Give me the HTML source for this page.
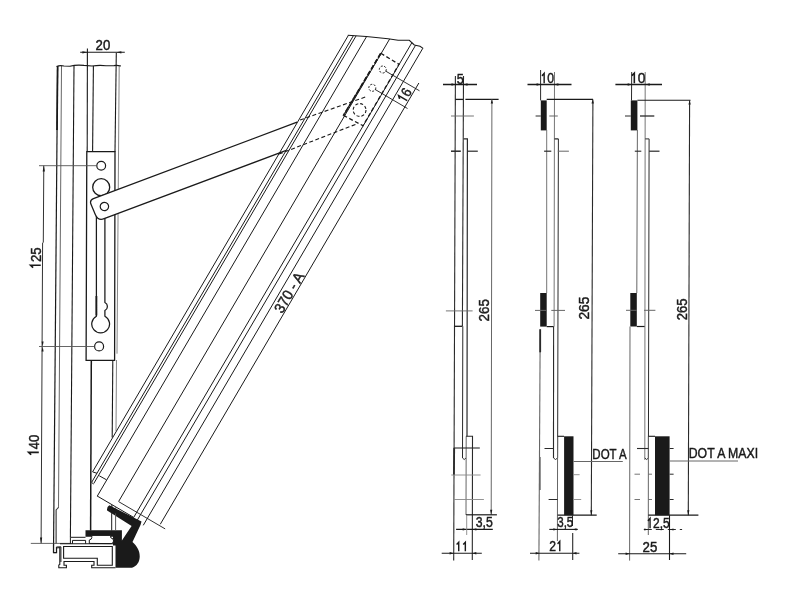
<!DOCTYPE html>
<html><head><meta charset="utf-8"><style>
html,body{margin:0;padding:0;background:#fff;width:801px;height:614px;overflow:hidden}
svg{display:block;will-change:transform}
text{font-family:"Liberation Sans",sans-serif;fill:#1a1a1a;stroke:#1a1a1a;stroke-width:0.45px}
</style></head><body>
<svg width="801" height="614" viewBox="0 0 801 614">
<rect width="801" height="614" fill="#fff"/>
<line x1="57.60" y1="66.00" x2="53.50" y2="552.60" stroke="#1a1a1a" stroke-width="1.2" />
<line x1="57.60" y1="66.00" x2="57.00" y2="130.00" stroke="#1a1a1a" stroke-width="1.7" />
<line x1="61.50" y1="66.00" x2="58.50" y2="506.60" stroke="#666" stroke-width="1.0" />
<path d="M58.5,506.6 Q58.5,509 56.1,509.5 L56.1,543.6" stroke="#1a1a1a" stroke-width="1.0" fill="none" />
<path d="M53.5,552.6 L56.4,552.6 L56.4,547 L60.9,546.8 L60.9,562" stroke="#1a1a1a" stroke-width="1.0" fill="none" />
<line x1="74.00" y1="66.00" x2="70.40" y2="537.30" stroke="#1a1a1a" stroke-width="1.1" />
<line x1="87.40" y1="48.40" x2="87.20" y2="151.70" stroke="#1a1a1a" stroke-width="1.1" />
<line x1="93.40" y1="66.00" x2="92.60" y2="151.70" stroke="#1a1a1a" stroke-width="1.1" />
<line x1="91.30" y1="360.30" x2="90.60" y2="530.50" stroke="#1a1a1a" stroke-width="1.5" />
<line x1="112.80" y1="360.30" x2="112.20" y2="437.50" stroke="#1a1a1a" stroke-width="1.1" />
<line x1="111.90" y1="505.00" x2="111.70" y2="513.40" stroke="#1a1a1a" stroke-width="1.1" />
<line x1="116.30" y1="52.70" x2="115.00" y2="151.70" stroke="#1a1a1a" stroke-width="1.1" />
<line x1="119.20" y1="66.00" x2="117.00" y2="353.70" stroke="#777" stroke-width="0.9" />
<line x1="116.50" y1="360.00" x2="116.00" y2="431.00" stroke="#777" stroke-width="0.9" />
<line x1="115.70" y1="507.00" x2="115.60" y2="513.40" stroke="#777" stroke-width="0.9" />
<path d="M56.5,66.5 Q60,65 64,66 L70,66.2 Q76,64.6 84,65.4 L92,66 Q100,64.8 106,65.8 L114,65.6 Q117,65 121,66" stroke="#1a1a1a" stroke-width="1.1" fill="none" />
<line x1="80.20" y1="52.30" x2="124.80" y2="52.30" stroke="#1a1a1a" stroke-width="1.1" />
<path d="M87.40,52.30 L82.40,51.20 L82.40,53.40 Z" fill="#1a1a1a" stroke="none" stroke-width="0"/>
<path d="M116.40,52.30 L121.40,51.20 L121.40,53.40 Z" fill="#1a1a1a" stroke="none" stroke-width="0"/>
<path d="M43.8,165.5 L43.3,242.2 L42.6,243 L41.1,543.4" stroke="#333" stroke-width="1.0" fill="none" />
<path d="M43.80,165.50 L42.70,171.50 L44.90,171.50 Z" fill="#1a1a1a" stroke="none" stroke-width="0"/>
<path d="M42.60,346.50 L41.60,341.50 L43.60,341.50 Z" fill="#1a1a1a" stroke="none" stroke-width="0"/>
<path d="M42.60,346.50 L41.60,351.50 L43.60,351.50 Z" fill="#1a1a1a" stroke="none" stroke-width="0"/>
<path d="M41.10,543.40 L40.00,537.40 L42.20,537.40 Z" fill="#1a1a1a" stroke="none" stroke-width="0"/>
<line x1="30.80" y1="543.40" x2="71.40" y2="543.40" stroke="#555" stroke-width="0.9" />
<path d="M86.8,151.7 L115,151.7 L114.6,360.3 L86.1,360.3 Z" stroke="#1a1a1a" stroke-width="1.3" fill="#fff" />
<circle cx="101.20" cy="165.70" r="4.40" stroke="#1a1a1a" stroke-width="1.2" fill="none" />
<circle cx="101.20" cy="187.20" r="8.50" stroke="#1a1a1a" stroke-width="1.3" fill="none" />
<path d="M96.4,216 L96.4,316.2 A8.9,8.9 0 1 0 104.9,316.2 L104.9,310.5 Q107.6,309 107.3,306.5 Q107.6,304 104.9,302.5 L104.9,214" stroke="#1a1a1a" stroke-width="1.25" fill="none" />
<line x1="96.40" y1="296.00" x2="96.40" y2="315.50" stroke="#1a1a1a" stroke-width="1.8" />
<circle cx="99.10" cy="346.40" r="4.50" stroke="#1a1a1a" stroke-width="1.2" fill="none" />
<line x1="39.00" y1="165.70" x2="97.00" y2="165.70" stroke="#555" stroke-width="0.9" />
<line x1="39.00" y1="346.50" x2="94.60" y2="346.50" stroke="#555" stroke-width="0.9" />
<g transform="translate(104.4,206.5) rotate(-20.556)">
<path d="M210,-11.3 L-7.5,-11.3 Q-11.5,-11.3 -11.8,-7.3 L-11.3,4.5 Q-11,11.3 -4.5,11.3 L190,11.3" stroke="#1a1a1a" stroke-width="1.25" fill="#fff"/>
<circle cx="0.00" cy="0.00" r="4.20" stroke="#1a1a1a" stroke-width="1.2" fill="none" />
</g>
<path d="M347.8,35.3 L366.2,36.5 L388.1,38.7 L398.1,40.3 L409.3,40.3 L414.3,45 L420,46.2 L423.1,48.4" stroke="#1a1a1a" stroke-width="1.1" fill="none" />
<line x1="348.39" y1="35.34" x2="92.58" y2="471.87" stroke="#1a1a1a" stroke-width="1.0" />
<line x1="353.40" y1="35.67" x2="91.65" y2="482.33" stroke="#1a1a1a" stroke-width="1.0" />
<line x1="356.10" y1="35.84" x2="93.74" y2="483.56" stroke="#1a1a1a" stroke-width="1.0" />
<line x1="366.60" y1="36.53" x2="97.30" y2="496.08" stroke="#1a1a1a" stroke-width="1.0" />
<line x1="389.67" y1="38.95" x2="118.57" y2="501.59" stroke="#1a1a1a" stroke-width="1.0" />
<line x1="411.87" y1="42.71" x2="133.70" y2="517.41" stroke="#1a1a1a" stroke-width="1.0" />
<line x1="415.57" y1="45.27" x2="136.56" y2="521.40" stroke="#1a1a1a" stroke-width="1.0" />
<line x1="422.84" y1="48.22" x2="143.26" y2="525.33" stroke="#1a1a1a" stroke-width="1.0" />
<line x1="418.86" y1="83.00" x2="160.27" y2="524.28" stroke="#1a1a1a" stroke-width="1.0" />
<line x1="92.58" y1="471.87" x2="96.96" y2="473.28" stroke="#1a1a1a" stroke-width="1.0" />
<line x1="91.65" y1="482.33" x2="93.48" y2="483.99" stroke="#1a1a1a" stroke-width="1.0" />
<line x1="106.45" y1="479.77" x2="99.28" y2="475.79" stroke="#1a1a1a" stroke-width="1.0" />
<line x1="97.00" y1="495.90" x2="133.75" y2="517.44" stroke="#1a1a1a" stroke-width="1.0" />
<line x1="118.93" y1="501.80" x2="165.17" y2="528.90" stroke="#1a1a1a" stroke-width="0.9" />
<line x1="385.50" y1="71.00" x2="419.50" y2="90.80" stroke="#1a1a1a" stroke-width="0.9" />
<line x1="375.00" y1="89.40" x2="407.50" y2="108.50" stroke="#1a1a1a" stroke-width="0.9" />
<path d="M380.8,53.3 L399,64.3 L363,125.7 L343.5,115.4 Z" stroke="#1a1a1a" stroke-width="1.3" fill="none" stroke-dasharray="4,2.5"/>
<line x1="380.80" y1="53.30" x2="343.50" y2="115.40" stroke="#1a1a1a" stroke-width="1.7" stroke-dasharray="5,2"/>
<circle cx="359.60" cy="110.00" r="6.40" stroke="#1a1a1a" stroke-width="1.1" fill="none" stroke-dasharray="3,2"/>
<circle cx="382.80" cy="69.50" r="3.50" stroke="#1a1a1a" stroke-width="1.0" fill="none" stroke-dasharray="2,1.5"/>
<circle cx="372.30" cy="87.80" r="3.50" stroke="#1a1a1a" stroke-width="1.0" fill="none" stroke-dasharray="2,1.5"/>
<line x1="300.10" y1="120.00" x2="366.00" y2="96.80" stroke="#1a1a1a" stroke-width="1.1" stroke-dasharray="4,2.5"/>
<line x1="279.00" y1="154.10" x2="356.00" y2="124.20" stroke="#1a1a1a" stroke-width="1.1" stroke-dasharray="4,2.5"/>
<path d="M85.5,530.2 L121.9,530.2 L121.9,540.6 L131.6,525.9 L107.1,510.6 Q106.5,507 109.3,505.3 L141.5,521.4 L140.6,524.8 L132.5,542 C137,546 140,551 139.7,557 C139.5,562 137,566 132,567.8 L115.5,567.8 L115.5,545.5 L113,545.5 L113,536.8 L85.5,536.8 Z" stroke="#1a1a1a" stroke-width="0" fill="#1a1a1a" stroke="none"/>
<path d="M91.8,535.4 L110.5,535.4 L110.8,537.8 Q113.8,538.5 113.6,541 Q113.2,543.6 111.2,543.6 L89.3,543.4 L89.3,540 Q91.8,539.5 91.8,537.5 Z" stroke="#1a1a1a" stroke-width="1.0" fill="#fff" />
<path d="M53.5,543.4 L53.5,552.6 L56.6,552.6 L56.6,547.9 L59.8,547.5 L59.8,564.5 L58.8,565 L58.8,567.7 L66.4,567.7 L66.4,565.3 L64,565.3 L64,561.5 L94,561.5 L94,565.3 L91.7,565.3 L91.7,567.8 L115.5,567.8" stroke="#1a1a1a" stroke-width="1.1" fill="none" />
<line x1="60.00" y1="543.70" x2="115.50" y2="543.70" stroke="#1a1a1a" stroke-width="1.1" />
<path d="M63.6,546.5 L112.3,546.5 L112.3,565.3 L97.3,565.3 L97.3,558.2 L63.6,558.2 Z" stroke="#1a1a1a" stroke-width="1.1" fill="none" />
<path d="M70.4,543.7 L70.4,537.3 L85.5,537.3" stroke="#1a1a1a" stroke-width="1.0" fill="none" />
<path d="M72.5,543.7 L72.5,540.4 L85.6,540.4 L85.6,543.7" stroke="#1a1a1a" stroke-width="1.0" fill="none" />
<line x1="111.70" y1="513.40" x2="111.70" y2="530.50" stroke="#1a1a1a" stroke-width="1.0" />
<line x1="115.60" y1="513.40" x2="115.60" y2="530.50" stroke="#555" stroke-width="1.0" />
<line x1="455.40" y1="76.00" x2="453.70" y2="560.60" stroke="#2a2a2a" stroke-width="1.1" />
<line x1="454.20" y1="448.00" x2="453.90" y2="475.00" stroke="#2a2a2a" stroke-width="1.8" />
<line x1="455.40" y1="99.40" x2="463.50" y2="99.40" stroke="#1a1a1a" stroke-width="1.3" />
<line x1="463.50" y1="76.00" x2="462.40" y2="326.30" stroke="#2a2a2a" stroke-width="1.1" />
<line x1="454.60" y1="326.30" x2="462.40" y2="326.30" stroke="#1a1a1a" stroke-width="1.3" />
<path d="M462.8,326.3 L462.5,458 Q464.2,461 466,458" stroke="#2a2a2a" stroke-width="1.0" fill="none" />
<path d="M463.5,138.9 L467.4,138.9 L467.0,436.3" stroke="#2a2a2a" stroke-width="1.2" fill="none" />
<line x1="466.20" y1="436.30" x2="466.00" y2="515.00" stroke="#666" stroke-width="1.0" />
<path d="M466,436.3 L472.5,436.3 L472.3,560" stroke="#2a2a2a" stroke-width="1.1" fill="none" />
<line x1="451.00" y1="116.00" x2="473.90" y2="116.00" stroke="#666" stroke-width="0.9" />
<line x1="451.00" y1="151.20" x2="460.80" y2="151.20" stroke="#2a2a2a" stroke-width="1.5" />
<line x1="467.40" y1="151.20" x2="477.80" y2="151.20" stroke="#2a2a2a" stroke-width="1.2" />
<line x1="445.90" y1="310.90" x2="472.60" y2="310.90" stroke="#666" stroke-width="0.9" />
<line x1="453.70" y1="448.00" x2="479.80" y2="448.00" stroke="#2a2a2a" stroke-width="1.1" />
<line x1="451.30" y1="475.00" x2="480.60" y2="475.00" stroke="#888" stroke-width="0.9" />
<line x1="453.70" y1="499.50" x2="483.90" y2="499.50" stroke="#888" stroke-width="0.9" />
<line x1="465.40" y1="99.40" x2="498.60" y2="99.40" stroke="#1a1a1a" stroke-width="1.2" />
<line x1="491.90" y1="99.40" x2="491.20" y2="514.80" stroke="#666" stroke-width="1.0" />
<path d="M491.90,99.60 L490.70,103.60 L493.10,103.60 Z" fill="#1a1a1a" stroke="none" stroke-width="0"/>
<path d="M491.20,514.80 L490.10,509.80 L492.30,509.80 Z" fill="#1a1a1a" stroke="none" stroke-width="0"/>
<line x1="466.00" y1="514.80" x2="496.90" y2="514.80" stroke="#1a1a1a" stroke-width="1.2" />
<line x1="443.00" y1="84.50" x2="477.00" y2="84.50" stroke="#1a1a1a" stroke-width="1.5" />
<path d="M455.50,84.50 L451.50,83.30 L451.50,85.70 Z" fill="#1a1a1a" stroke="none" stroke-width="0"/>
<path d="M463.50,84.50 L467.50,83.30 L467.50,85.70 Z" fill="#1a1a1a" stroke="none" stroke-width="0"/>
<line x1="456.10" y1="529.40" x2="492.80" y2="529.40" stroke="#1a1a1a" stroke-width="1.1" />
<path d="M466.70,529.40 L462.70,528.30 L462.70,530.50 Z" fill="#1a1a1a" stroke="none" stroke-width="0"/>
<path d="M472.40,529.40 L476.40,528.30 L476.40,530.50 Z" fill="#1a1a1a" stroke="none" stroke-width="0"/>
<line x1="441.70" y1="553.20" x2="481.80" y2="553.20" stroke="#1a1a1a" stroke-width="1.1" />
<path d="M453.60,553.20 L449.60,552.00 L449.60,554.40 Z" fill="#1a1a1a" stroke="none" stroke-width="0"/>
<path d="M472.30,553.20 L476.30,552.00 L476.30,554.40 Z" fill="#1a1a1a" stroke="none" stroke-width="0"/>
<line x1="466.70" y1="515.00" x2="466.70" y2="535.00" stroke="#888" stroke-width="0.9" />
<rect x="540.80" y="100.40" width="5.90" height="30.00" fill="#1a1a1a"/>
<rect x="540.20" y="293.00" width="6.50" height="33.60" fill="#1a1a1a"/>
<rect x="564.10" y="436.30" width="9.40" height="78.90" fill="#1a1a1a"/>
<line x1="540.60" y1="70.00" x2="540.60" y2="100.40" stroke="#2a2a2a" stroke-width="1.0" />
<line x1="554.50" y1="72.00" x2="554.10" y2="326.60" stroke="#666" stroke-width="0.9" />
<line x1="546.70" y1="99.40" x2="593.00" y2="99.40" stroke="#1a1a1a" stroke-width="1.2" />
<line x1="592.90" y1="99.40" x2="591.30" y2="515.20" stroke="#2a2a2a" stroke-width="1.1" />
<path d="M592.70,99.60 L591.50,103.60 L593.90,103.60 Z" fill="#1a1a1a" stroke="none" stroke-width="0"/>
<path d="M591.30,515.20 L590.20,510.20 L592.40,510.20 Z" fill="#1a1a1a" stroke="none" stroke-width="0"/>
<line x1="546.70" y1="130.00" x2="546.70" y2="293.00" stroke="#666" stroke-width="0.9" />
<line x1="546.70" y1="326.60" x2="553.60" y2="326.60" stroke="#1a1a1a" stroke-width="1.2" />
<line x1="553.60" y1="326.60" x2="553.50" y2="458.00" stroke="#2a2a2a" stroke-width="1.1" />
<path d="M558.4,138.9 L557.6,458 Q555.5,461 553.5,458" stroke="#2a2a2a" stroke-width="1.0" fill="none" />
<line x1="554.50" y1="138.90" x2="558.40" y2="138.90" stroke="#1a1a1a" stroke-width="1.2" />
<line x1="557.60" y1="436.30" x2="557.40" y2="541.00" stroke="#666" stroke-width="1.0" />
<line x1="557.60" y1="436.30" x2="564.10" y2="436.30" stroke="#1a1a1a" stroke-width="1.1" />
<line x1="540.20" y1="329.30" x2="538.90" y2="560.60" stroke="#666" stroke-width="1.1" />
<line x1="540.20" y1="329.30" x2="540.20" y2="352.30" stroke="#2a2a2a" stroke-width="1.8" />
<line x1="539.90" y1="457.00" x2="539.90" y2="490.00" stroke="#666" stroke-width="1.6" />
<line x1="535.60" y1="116.00" x2="540.80" y2="116.00" stroke="#2a2a2a" stroke-width="1.0" />
<line x1="549.30" y1="116.00" x2="557.80" y2="116.00" stroke="#666" stroke-width="1.0" />
<line x1="544.10" y1="151.20" x2="551.30" y2="151.20" stroke="#2a2a2a" stroke-width="1.2" />
<line x1="557.80" y1="151.20" x2="568.90" y2="151.20" stroke="#666" stroke-width="1.0" />
<line x1="535.00" y1="310.40" x2="546.70" y2="310.40" stroke="#666" stroke-width="1.0" />
<line x1="551.30" y1="310.40" x2="565.00" y2="310.40" stroke="#666" stroke-width="1.0" />
<line x1="544.50" y1="448.50" x2="553.50" y2="448.50" stroke="#2a2a2a" stroke-width="1.0" />
<line x1="573.50" y1="474.70" x2="579.60" y2="474.70" stroke="#888" stroke-width="0.9" />
<line x1="548.60" y1="499.50" x2="557.60" y2="499.50" stroke="#2a2a2a" stroke-width="1.0" />
<line x1="573.50" y1="499.50" x2="581.20" y2="499.50" stroke="#888" stroke-width="0.9" />
<line x1="527.50" y1="84.50" x2="571.50" y2="84.50" stroke="#1a1a1a" stroke-width="1.4" />
<path d="M540.60,84.50 L536.60,83.30 L536.60,85.70 Z" fill="#1a1a1a" stroke="none" stroke-width="0"/>
<path d="M554.40,84.50 L558.40,83.30 L558.40,85.70 Z" fill="#1a1a1a" stroke="none" stroke-width="0"/>
<line x1="557.60" y1="515.20" x2="596.70" y2="515.20" stroke="#1a1a1a" stroke-width="1.2" />
<line x1="573.50" y1="461.50" x2="622.80" y2="461.50" stroke="#666" stroke-width="1.0" />
<line x1="549.30" y1="529.40" x2="577.80" y2="529.40" stroke="#1a1a1a" stroke-width="1.1" />
<path d="M557.40,529.40 L553.40,528.30 L553.40,530.50 Z" fill="#1a1a1a" stroke="none" stroke-width="0"/>
<path d="M572.50,529.40 L576.50,528.30 L576.50,530.50 Z" fill="#1a1a1a" stroke="none" stroke-width="0"/>
<line x1="530.00" y1="553.20" x2="579.40" y2="553.20" stroke="#1a1a1a" stroke-width="1.1" />
<path d="M539.70,553.20 L535.70,552.00 L535.70,554.40 Z" fill="#1a1a1a" stroke="none" stroke-width="0"/>
<path d="M572.50,553.20 L576.50,552.00 L576.50,554.40 Z" fill="#1a1a1a" stroke="none" stroke-width="0"/>
<line x1="572.50" y1="515.20" x2="572.50" y2="526.00" stroke="#2a2a2a" stroke-width="1.0" />
<line x1="572.70" y1="533.00" x2="572.70" y2="560.00" stroke="#2a2a2a" stroke-width="1.1" />
<rect x="630.80" y="100.40" width="6.60" height="30.00" fill="#1a1a1a"/>
<rect x="630.30" y="293.00" width="6.50" height="33.50" fill="#1a1a1a"/>
<rect x="655.00" y="436.30" width="14.60" height="78.90" fill="#1a1a1a"/>
<line x1="631.70" y1="72.00" x2="631.50" y2="100.50" stroke="#2a2a2a" stroke-width="1.0" />
<line x1="645.20" y1="72.00" x2="644.80" y2="459.90" stroke="#666" stroke-width="0.9" />
<line x1="637.40" y1="100.20" x2="690.50" y2="100.20" stroke="#1a1a1a" stroke-width="1.1" />
<line x1="689.60" y1="100.20" x2="688.30" y2="515.20" stroke="#2a2a2a" stroke-width="1.1" />
<path d="M689.60,100.40 L688.40,104.40 L690.80,104.40 Z" fill="#1a1a1a" stroke="none" stroke-width="0"/>
<path d="M688.30,515.20 L687.20,510.20 L689.40,510.20 Z" fill="#1a1a1a" stroke="none" stroke-width="0"/>
<line x1="637.40" y1="130.00" x2="636.80" y2="293.00" stroke="#666" stroke-width="1.0" />
<line x1="636.80" y1="326.50" x2="644.60" y2="326.50" stroke="#1a1a1a" stroke-width="1.2" />
<line x1="630.00" y1="326.50" x2="629.60" y2="560.60" stroke="#666" stroke-width="1.0" />
<path d="M645.2,138.9 L649.1,138.9 L648.4,458 Q646.6,461 644.8,458" stroke="#2a2a2a" stroke-width="1.0" fill="none" />
<line x1="648.40" y1="436.30" x2="648.30" y2="535.00" stroke="#666" stroke-width="1.0" />
<line x1="648.40" y1="436.30" x2="655.00" y2="436.30" stroke="#1a1a1a" stroke-width="1.1" />
<line x1="625.00" y1="116.00" x2="630.80" y2="116.00" stroke="#2a2a2a" stroke-width="1.0" />
<line x1="640.00" y1="116.00" x2="654.30" y2="116.00" stroke="#2a2a2a" stroke-width="1.3" />
<line x1="634.80" y1="151.20" x2="641.30" y2="151.20" stroke="#2a2a2a" stroke-width="1.1" />
<line x1="649.10" y1="151.20" x2="659.50" y2="151.20" stroke="#2a2a2a" stroke-width="1.2" />
<line x1="626.00" y1="310.30" x2="637.00" y2="310.30" stroke="#666" stroke-width="1.0" />
<line x1="644.00" y1="310.30" x2="655.40" y2="310.30" stroke="#666" stroke-width="1.0" />
<line x1="637.00" y1="448.50" x2="648.40" y2="448.50" stroke="#2a2a2a" stroke-width="1.1" />
<line x1="669.60" y1="448.50" x2="673.60" y2="448.50" stroke="#2a2a2a" stroke-width="1.0" />
<line x1="634.50" y1="474.20" x2="640.00" y2="474.20" stroke="#666" stroke-width="0.9" />
<line x1="648.40" y1="474.20" x2="652.00" y2="474.20" stroke="#666" stroke-width="0.9" />
<line x1="669.60" y1="474.20" x2="673.60" y2="474.20" stroke="#2a2a2a" stroke-width="1.0" />
<line x1="634.50" y1="499.50" x2="640.00" y2="499.50" stroke="#666" stroke-width="0.9" />
<line x1="648.40" y1="499.50" x2="652.00" y2="499.50" stroke="#666" stroke-width="0.9" />
<line x1="669.60" y1="499.50" x2="673.60" y2="499.50" stroke="#2a2a2a" stroke-width="1.0" />
<line x1="615.40" y1="84.50" x2="662.00" y2="84.50" stroke="#1a1a1a" stroke-width="1.4" />
<path d="M631.70,84.50 L627.70,83.30 L627.70,85.70 Z" fill="#1a1a1a" stroke="none" stroke-width="0"/>
<path d="M645.70,84.50 L649.70,83.30 L649.70,85.70 Z" fill="#1a1a1a" stroke="none" stroke-width="0"/>
<line x1="648.30" y1="515.20" x2="698.40" y2="515.20" stroke="#1a1a1a" stroke-width="1.2" />
<line x1="669.60" y1="461.00" x2="738.00" y2="461.00" stroke="#666" stroke-width="1.0" />
<line x1="643.80" y1="529.50" x2="682.10" y2="529.50" stroke="#2a2a2a" stroke-width="1.0" stroke-dasharray="8,4"/>
<path d="M648.30,529.50 L644.30,528.40 L644.30,530.60 Z" fill="#1a1a1a" stroke="none" stroke-width="0"/>
<path d="M669.50,529.50 L673.50,528.40 L673.50,530.60 Z" fill="#1a1a1a" stroke="none" stroke-width="0"/>
<line x1="618.20" y1="553.80" x2="686.20" y2="553.80" stroke="#1a1a1a" stroke-width="1.1" />
<path d="M629.60,553.80 L625.60,552.60 L625.60,555.00 Z" fill="#1a1a1a" stroke="none" stroke-width="0"/>
<path d="M669.50,553.80 L673.50,552.60 L673.50,555.00 Z" fill="#1a1a1a" stroke="none" stroke-width="0"/>
<line x1="669.50" y1="515.20" x2="669.50" y2="560.00" stroke="#1a1a1a" stroke-width="1.1" />
<text transform="translate(102.90,50.40) rotate(0) scale(0.91,1)" text-anchor="middle" font-size="14.53">20</text>
<text transform="translate(40.75,258.33) rotate(-90) scale(0.897,1)" text-anchor="middle" font-size="14.7"><tspan style="fill:none;stroke:none">1</tspan>25</text>
<path transform="translate(40.75,258.33) rotate(-90) scale(0.897,1)" d="M-7.70,0 L-7.70,-10.14 L-10.35,-7.64" stroke="#1a1a1a" stroke-width="1.70" fill="none" stroke-linejoin="miter"/>
<text transform="translate(38.80,445.53) rotate(-90) scale(0.883,1)" text-anchor="middle" font-size="14.79"><tspan style="fill:none;stroke:none">1</tspan>40</text>
<path transform="translate(38.80,445.53) rotate(-90) scale(0.883,1)" d="M-7.75,0 L-7.75,-10.21 L-10.41,-7.69" stroke="#1a1a1a" stroke-width="1.71" fill="none" stroke-linejoin="miter"/>
<text transform="translate(460.30,83.85) rotate(0) scale(0.819,1)" text-anchor="middle" font-size="15.49">5</text>
<text transform="translate(547.15,83.20) rotate(0) scale(0.861,1)" text-anchor="middle" font-size="14.15"><tspan style="fill:none;stroke:none">1</tspan>0</text>
<path transform="translate(547.15,83.20) rotate(0) scale(0.861,1)" d="M-3.48,0 L-3.48,-9.76 L-6.03,-7.36" stroke="#1a1a1a" stroke-width="1.65" fill="none" stroke-linejoin="miter"/>
<text transform="translate(637.72,83.35) rotate(0) scale(0.939,1)" text-anchor="middle" font-size="14.7"><tspan style="fill:none;stroke:none">1</tspan>0</text>
<path transform="translate(637.72,83.35) rotate(0) scale(0.939,1)" d="M-3.62,0 L-3.62,-10.14 L-6.26,-7.64" stroke="#1a1a1a" stroke-width="1.70" fill="none" stroke-linejoin="miter"/>
<text transform="translate(488.75,310.30) rotate(-90) scale(0.87,1)" text-anchor="middle" font-size="15.38">265</text>
<text transform="translate(589.40,308.08) rotate(-90) scale(0.96,1)" text-anchor="middle" font-size="14.4">265</text>
<text transform="translate(686.85,309.50) rotate(-90) scale(0.863,1)" text-anchor="middle" font-size="15.1">265</text>
<text transform="translate(609.50,459.35) rotate(0) scale(0.785,1)" text-anchor="middle" font-size="14.66">DOT A</text>
<text transform="translate(723.40,457.75) rotate(0) scale(0.835,1)" text-anchor="middle" font-size="14.7">DOT A MAXI</text>
<text transform="translate(484.18,527.25) rotate(0) scale(0.837,1)" text-anchor="middle" font-size="14.66">3,5</text>
<text transform="translate(565.25,527.25) rotate(0) scale(0.79,1)" text-anchor="middle" font-size="14.66">3,5</text>
<text transform="translate(658.02,528.15) rotate(0) scale(0.86,1)" text-anchor="middle" font-size="13.96"><tspan style="fill:none;stroke:none">1</tspan>2,5</text>
<path transform="translate(658.02,528.15) rotate(0) scale(0.86,1)" d="M-9.26,0 L-9.26,-9.63 L-11.77,-7.26" stroke="#1a1a1a" stroke-width="1.64" fill="none" stroke-linejoin="miter"/>
<text transform="translate(461.65,551.25) rotate(0) scale(0.92,1)" text-anchor="middle" font-size="12.94"><tspan style="fill:none;stroke:none">1</tspan><tspan style="fill:none;stroke:none">1</tspan></text>
<path transform="translate(461.65,551.25) rotate(0) scale(0.92,1)" d="M-3.18,0 L-3.18,-8.93 L-5.51,-6.73 M4.01,0 L4.01,-8.93 L1.68,-6.73" stroke="#1a1a1a" stroke-width="1.55" fill="none" stroke-linejoin="miter"/>
<text transform="translate(556.00,551.25) rotate(0) scale(0.85,1)" text-anchor="middle" font-size="14.28">2<tspan style="fill:none;stroke:none">1</tspan></text>
<path transform="translate(556.00,551.25) rotate(0) scale(0.85,1)" d="M4.43,0 L4.43,-9.85 L1.86,-7.43" stroke="#1a1a1a" stroke-width="1.66" fill="none" stroke-linejoin="miter"/>
<text transform="translate(649.90,551.75) rotate(0) scale(0.905,1)" text-anchor="middle" font-size="14.66">25</text>
<text transform="translate(293.40,295.03) rotate(-59.67) scale(0.951,1)" text-anchor="middle" font-size="14.76">370 - A</text>
<text transform="translate(408.83,97.84) rotate(-59.67) scale(0.891,1)" text-anchor="middle" font-size="14.41"><tspan style="fill:none;stroke:none">1</tspan>6</text>
<path transform="translate(408.83,97.84) rotate(-59.67) scale(0.891,1)" d="M-3.54,0 L-3.54,-9.94 L-6.14,-7.49" stroke="#1a1a1a" stroke-width="1.67" fill="none" stroke-linejoin="miter"/>
</svg></body></html>
